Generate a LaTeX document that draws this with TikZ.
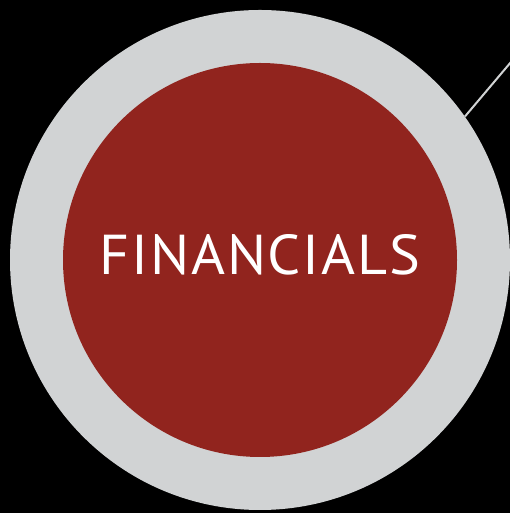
\documentclass[tikz,border=0pt]{standalone}
\usepackage{fontspec}
\setmainfont{PT Sans}[LetterSpace=3]
\definecolor{ringgray}{RGB}{209,211,212}
\definecolor{finred}{RGB}{145,36,30}
\begin{document}
\begin{tikzpicture}[x=1pt,y=1pt,
  ring/.style={circle,fill=ringgray,inner sep=0pt,minimum size=500pt},
  core/.style={circle,fill=finred,inner sep=0pt,minimum size=394pt},
  label/.style={text=white,inner sep=0pt},
  leader/.style={draw=ringgray,line width=2pt}]
\fill[black] (0,0) rectangle (510,513);
\useasboundingbox (0,0) rectangle (510,513);
\node[ring] (outer) at (260,253) {};
\node[core] (inner) at (260,253) {};
\node[label] (title) at (260,258) {\resizebox{320pt}{40pt}{FINANCIALS}};
\coordinate (end) at (511,451);
\draw[leader] (outer.35.9) -- (end);
\end{tikzpicture}
\end{document}
